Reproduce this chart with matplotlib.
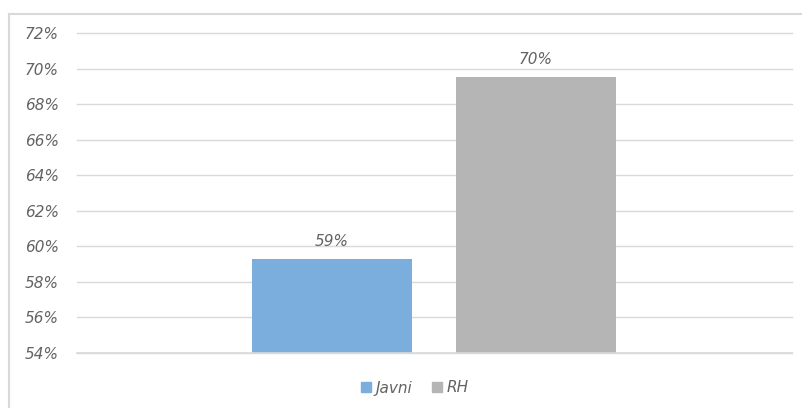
import matplotlib
matplotlib.use("Agg")
import matplotlib.pyplot as plt
from matplotlib.patches import Rectangle
from matplotlib.lines import Line2D

series = ["Javni", "RH"]
values = [59.3, 69.55]
labels = ["59%", "70%"]
colors = ["#7BADDD", "#B5B5B5"]
yticks = [54, 56, 58, 60, 62, 64, 66, 68, 70, 72]

W, H = 803, 408
fig = plt.figure(figsize=(W / 100, H / 100), dpi=100)
fam = ["DejaVu Sans"]
FS = 11
TC = "#636363"

# chart border
fig.add_artist(Line2D([9.5 / W, 9.5 / W], [0, 1 - 13.5 / H], color="#D9D9D9", lw=1.5))
fig.add_artist(Line2D([9.5 / W, 1], [1 - 13.5 / H, 1 - 13.5 / H], color="#D9D9D9", lw=1.5))

ax = fig.add_axes([77 / W, 1 - 353 / H, (792 - 77) / W, (353 - 33) / H])
ax.set_xlim(-0.5, 0.5)
ax.set_ylim(54, 72)

offsets = [-0.1434, 0.1413]
bw = 160 / 715
for off, v, c, lab in zip(offsets, values, colors, labels):
    ax.bar(off, v - 54, bottom=54, width=bw, color=c, zorder=3)
    ax.text(off, v + 0.55, lab, ha="center", va="bottom", fontsize=FS,
            style="italic", color=TC, family=fam)

ax.set_yticks(yticks)
ax.set_yticklabels([f"{t}%" for t in yticks])
for t in ax.get_yticklabels():
    t.set_fontstyle("italic")
    t.set_color(TC)
    t.set_fontsize(FS)
    t.set_family(fam)
ax.tick_params(axis="y", length=0, pad=13)
ax.tick_params(axis="x", length=0, labelbottom=False)
ax.grid(axis="y", color="#D9D9D9", lw=1, zorder=0)
for gl in ax.get_ygridlines():
    gl.set_clip_on(False)
for s in ax.spines.values():
    s.set_visible(False)
ax.axhline(54, color="#D9D9D9", lw=1.2, zorder=4, clip_on=False)

handles = [Rectangle((0, 0), 1, 1, color=c) for c in colors]
leg = fig.legend(handles, series, loc="center", bbox_to_anchor=(415 / W, 1 - 388 / H),
                 ncol=2, frameon=False, handlelength=0.65, handleheight=0.65,
                 handletextpad=0.3, columnspacing=1.3,
                 prop={"family": fam, "style": "italic", "size": FS})
for t in leg.get_texts():
    t.set_color(TC)

fig.savefig("out.png", dpi=100)
